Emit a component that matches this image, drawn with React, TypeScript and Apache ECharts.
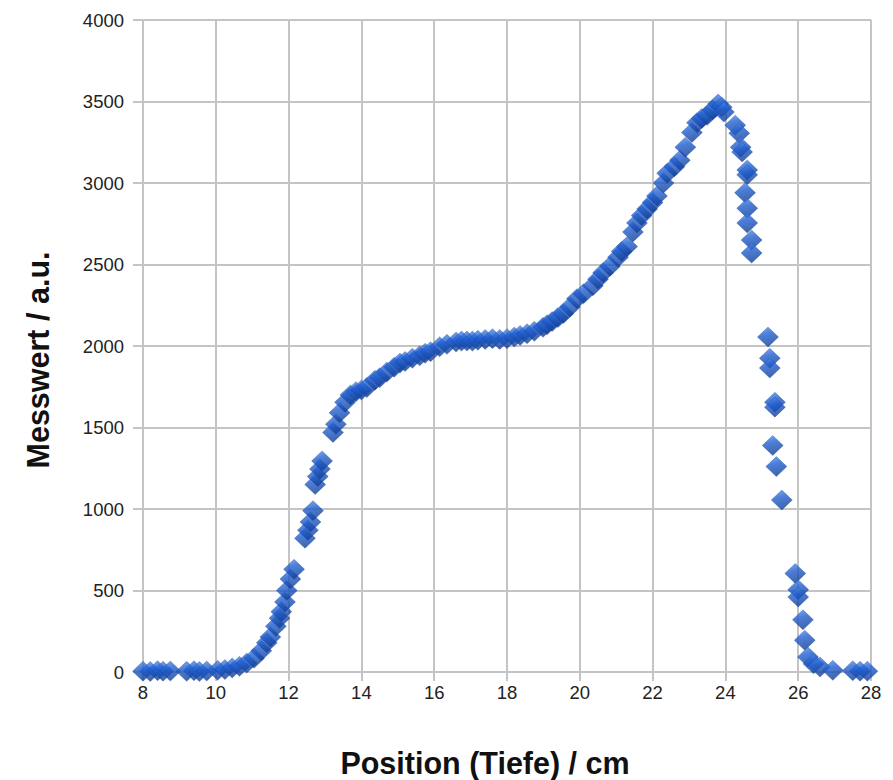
import React, { useEffect, useRef } from "react";
import * as echarts from "echarts";

const positions: number[] = [
  8.0, 8.2, 8.4, 8.55, 8.75, 9.2, 9.4, 9.55, 9.75, 10.05, 10.25, 10.45, 10.65, 10.85,
  11.05, 11.25, 11.4, 11.5, 11.65, 11.75, 11.8, 11.9, 11.95, 12.05, 12.15, 12.45,
  12.53, 12.6, 12.67, 12.73, 12.8, 12.86, 12.92, 13.22, 13.3, 13.4, 13.55, 13.7,
  13.85, 14.0, 14.15, 14.37, 14.5, 14.7, 14.9, 15.06, 15.2, 15.4, 15.6, 15.75, 15.9,
  16.15, 16.35, 16.6, 16.75, 16.9, 17.05, 17.2, 17.4, 17.6, 17.8, 18.0, 18.2,
  18.36, 18.55, 18.75, 18.99, 19.1, 19.24, 19.4, 19.55, 19.73, 19.92, 20.1, 20.36,
  20.5, 20.64, 20.83, 21.05, 21.15, 21.3, 21.46, 21.57, 21.7, 21.85, 22.0, 22.12,
  22.3, 22.4, 22.6, 22.75, 22.9, 23.08, 23.22, 23.35, 23.5, 23.65, 23.8, 23.9,
  23.96, 24.27, 24.38, 24.42, 24.46, 24.6, 24.6, 24.54, 24.6, 24.6, 24.72, 24.72,
  25.17, 25.22, 25.22, 25.36, 25.36, 25.3, 25.4, 25.55, 25.92, 26.0, 26.0, 26.13,
  26.18, 26.27, 26.42, 26.6, 26.95, 27.5, 27.7, 27.9,
];

const values: number[] = [
  5, 3, 8, 5, 6, 4, 8, 3, 6, 10, 15, 25, 35, 55,
  85, 130, 180, 215, 280, 330, 370, 430, 500, 570, 630, 820,
  870, 920, 990, 1150, 1200, 1245, 1295, 1470, 1520, 1590, 1655, 1700,
  1720, 1730, 1745, 1790, 1805, 1840, 1870, 1895, 1905, 1925, 1940, 1955, 1965,
  1995, 2010, 2025, 2030, 2030, 2030, 2035, 2040, 2045, 2040, 2045, 2055,
  2065, 2075, 2090, 2115, 2130, 2150, 2175, 2200, 2240, 2290, 2320, 2370,
  2410, 2450, 2490, 2545, 2580, 2610, 2700, 2755, 2800, 2840, 2880, 2920,
  3000, 3060, 3100, 3140, 3220, 3310, 3370, 3395, 3415, 3450, 3485, 3465,
  3435, 3355, 3305, 3220, 3190, 3080, 3050, 2940, 2845, 2755, 2650, 2570,
  2055, 1925, 1865, 1655, 1625, 1390, 1260, 1055, 605, 505, 460, 320,
  195, 92, 50, 30, 10, 8, 5, 5,
];

const xTitle = "Position (Tiefe) / cm";
const yTitle = "Messwert / a.u.";

export default function App() {
  const ref = useRef<HTMLDivElement>(null);
  useEffect(() => {
    document.body.style.margin = "0";
    if (!ref.current) return;
    const chart = echarts.init(ref.current, undefined, { renderer: "svg" });
    const gridColor = "#c4c4c4";
    const labelFont = {
      color: "#222",
      fontFamily: "Liberation Sans, Arial, sans-serif",
      fontSize: 18.5,
    };
    chart.setOption({
      animation: false,
      backgroundColor: "#ffffff",
      grid: { left: 143, right: 22, top: 20, bottom: 108 },
      xAxis: {
        type: "value",
        min: 8,
        max: 28,
        interval: 2,
        axisLine: { show: true, lineStyle: { color: gridColor, width: 2 } },
        axisTick: { show: true, length: 9, lineStyle: { color: gridColor, width: 2 } },
        splitLine: { show: true, lineStyle: { color: gridColor, width: 2 } },
        axisLabel: { ...labelFont, margin: 11, formatter: (v: number) => String(v) },
      },
      yAxis: {
        type: "value",
        min: 0,
        max: 4000,
        interval: 500,
        axisLine: { show: true, lineStyle: { color: gridColor, width: 2 } },
        axisTick: { show: true, length: 10, lineStyle: { color: gridColor, width: 2 } },
        splitLine: { show: true, lineStyle: { color: gridColor, width: 2 } },
        axisLabel: { ...labelFont, margin: 19, formatter: (v: number) => String(v) },
      },
      graphic: [
        {
          type: "text",
          x: 485,
          y: 763,
          style: {
            text: xTitle,
            fill: "#111",
            font: "bold 30.5px Liberation Sans, Arial, sans-serif",
            textAlign: "center",
            textVerticalAlign: "middle",
          },
        },
        {
          type: "text",
          x: 38,
          y: 360,
          rotation: Math.PI / 2,
          style: {
            text: yTitle,
            fill: "#111",
            font: "bold 30.5px Liberation Sans, Arial, sans-serif",
            textAlign: "center",
            textVerticalAlign: "middle",
          },
        },
      ],
      series: [
        {
          type: "scatter",
          symbol: "diamond",
          symbolSize: [21, 20],
          data: positions.map((p, i) => [p, values[i]]),
          itemStyle: {
            color: {
              type: "linear",
              x: 0,
              y: 0,
              x2: 0.3,
              y2: 1,
              colorStops: [
                { offset: 0, color: "#5f9af0" },
                { offset: 0.45, color: "#1f5ed0" },
                { offset: 1, color: "#123f96" },
              ],
            },
            borderColor: "rgba(18,60,145,0.75)",
            borderWidth: 0.5,
          },
        },
      ],
    });
    return () => chart.dispose();
  }, []);
  return <div ref={ref} style={{ width: 893, height: 780 }} />;
}
